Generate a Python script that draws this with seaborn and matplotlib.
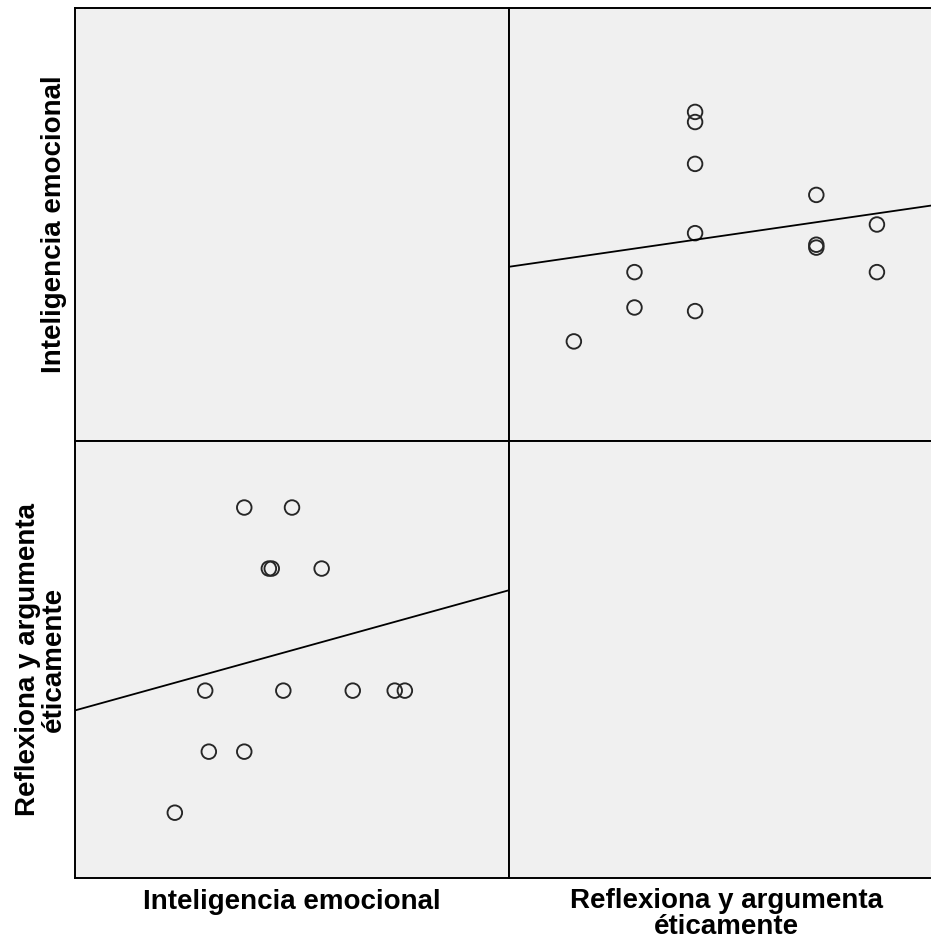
import numpy as np
import pandas as pd
import matplotlib
matplotlib.use("Agg")
import matplotlib.pyplot as plt
import seaborn as sns

# values read off the scatter matrix (no tick labels in the source, scale is estimated)
inteligencia = [73.8, 78.5, 83.4, 78.0, 88.8, 98.4, 104.2, 105.6, 86.8, 87.2, 94.1, 83.4, 90.0]
reflexiona = [10, 11, 11, 12, 12, 12, 12, 12, 14, 14, 14, 15, 15]

ie_lim = (60, 120)
rae_lim = (8.93, 16.09)

label_ie = "Inteligencia emocional"
label_rae = "Reflexiona y argumenta\néticamente"

df = pd.DataFrame({"ie": inteligencia, "rae": reflexiona})

sns.set_style("white")
plt.rcParams["font.family"] = ["Liberation Sans", "DejaVu Sans"]

fig = plt.figure(figsize=(9.31, 9.41), dpi=100)

left, mid = 75 / 931, 509 / 931
w = 434 / 931
top_b, top_h = (941 - 441) / 941, 433 / 941
bot_b, bot_h = (941 - 878) / 941, 437 / 941

ax_tl = fig.add_axes([left, top_b, w, top_h])
ax_tr = fig.add_axes([mid, top_b, w, top_h])
ax_bl = fig.add_axes([left, bot_b, w, bot_h])
ax_br = fig.add_axes([mid, bot_b, w, bot_h])

scatter_kws = dict(s=110, facecolors="none", edgecolors="#262626", linewidths=1.35, alpha=1)
line_kws = dict(color="black", lw=1.3)

# top-right: x = reflexiona, y = inteligencia
ax_tr.set_xlim(*rae_lim)
ax_tr.set_ylim(*ie_lim)
sns.regplot(data=df, x="rae", y="ie", ax=ax_tr, ci=None, truncate=False,
            scatter_kws=scatter_kws, line_kws=line_kws)

# bottom-left: x = inteligencia, y = reflexiona
ax_bl.set_xlim(*ie_lim)
ax_bl.set_ylim(*rae_lim)
sns.regplot(data=df, x="ie", y="rae", ax=ax_bl, ci=None, truncate=False,
            scatter_kws=scatter_kws, line_kws=line_kws)

ax_tl.set_xlim(*ie_lim)
ax_tl.set_ylim(*ie_lim)
ax_br.set_xlim(*rae_lim)
ax_br.set_ylim(*rae_lim)

for ax in [ax_tl, ax_tr, ax_bl, ax_br]:
    ax.set_facecolor("#f0f0f0")
    ax.set_xticks([])
    ax.set_yticks([])
    ax.set_xlabel("")
    ax.set_ylabel("")
    for sp in ax.spines.values():
        sp.set_color("black")
        sp.set_linewidth(1.4)

lab = dict(fontsize=20, fontweight="bold", linespacing=1.0, color="black")
ax_bl.set_xlabel(label_ie, labelpad=8, **lab)
ax_br.set_xlabel(label_rae, labelpad=7, **lab)
ax_tl.set_ylabel(label_ie, labelpad=6, **lab)
ax_bl.set_ylabel(label_rae, labelpad=6, **lab)

fig.savefig("out.png", dpi=100, facecolor="white")
